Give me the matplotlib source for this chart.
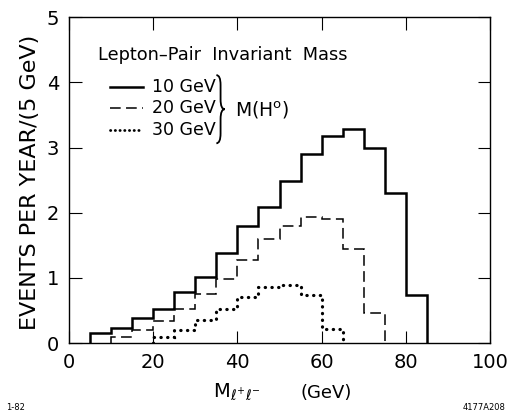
import numpy as np
import matplotlib
matplotlib.use("Agg")
import matplotlib.pyplot as plt
from matplotlib.path import Path
from matplotlib.patches import PathPatch

# Data (events per year per 5 GeV bin)
edges_10 = [5, 10, 15, 20, 25, 30, 35, 40, 45, 50, 55, 60, 65, 70, 75, 80, 85]
vals_10 = [0.15, 0.24, 0.39, 0.53, 0.79, 1.02, 1.38, 1.79, 2.09, 2.49, 2.90, 3.18, 3.28, 3.00, 2.30, 0.74]
edges_20 = [10, 15, 20, 25, 30, 35, 40, 45, 50, 55, 60, 65, 70, 75]
vals_20 = [0.10, 0.20, 0.34, 0.53, 0.75, 0.99, 1.28, 1.59, 1.80, 1.94, 1.91, 1.45, 0.47]
edges_30 = [20, 25, 30, 35, 40, 45, 50, 55, 60, 65]
vals_30 = [0.10, 0.20, 0.36, 0.53, 0.71, 0.86, 0.89, 0.74, 0.22]
xticks = [0, 20, 40, 60, 80, 100]
yticks = [0, 1, 2, 3, 4, 5]
legend_labels = ["10 GeV", "20 GeV", "30 GeV"]

plt.rcParams['font.family'] = ['DejaVu Sans']
fig = plt.figure(figsize=(5.11, 4.17), dpi=100)
ax = fig.add_axes([0.135, 0.177, 0.824, 0.782])

DASH = (0, (7, 3.5))
DOT = (0, (0.1, 2.0))
ax.stairs(vals_10, edges_10, baseline=0, color='black', lw=1.8)
ax.stairs(vals_20, edges_20, baseline=0, color='black', lw=1.1, linestyle=DASH)
p3 = ax.stairs(vals_30, edges_30, baseline=0, color='black', lw=2.3, linestyle=DOT)
p3.set_capstyle('round')

ax.set_xlim(0, 100)
ax.set_ylim(0, 5)
ax.set_xticks(xticks)
ax.set_yticks(yticks)
ax.tick_params(direction='in', length=9, width=0.8, top=True, right=True, labelsize=14, pad=7)
for s in ax.spines.values():
    s.set_linewidth(1.0)

fig.text(0.058, 0.562, 'EVENTS PER YEAR/(5 GeV)', fontsize=16, rotation=90, ha='center', va='center')
fig.text(0.417, 0.058, r'$\mathrm{M}_{\ell^{+}\ell^{-}}$', fontsize=14, ha='left', va='center')
fig.text(0.588, 0.058, '(GeV)', fontsize=13, ha='left', va='center')

# Title and legend inside axes
ax.text(0.069, 0.883, 'Lepton\u2013Pair  Invariant  Mass', transform=ax.transAxes, fontsize=12.8, ha='left', va='center')
ys = [0.786, 0.72, 0.653]
styles = [dict(lw=1.8, ls='-'), dict(lw=1.1, ls=DASH), dict(lw=2.0, ls=(0, (0.1, 1.6)), dash_capstyle='round')]
for y, st, lab in zip(ys, styles, legend_labels):
    ax.plot([0.097, 0.176], [y, y], transform=ax.transAxes, color='black', **st)
    ax.text(0.198, y, lab, transform=ax.transAxes, fontsize=12.5, ha='left', va='center')

# Curly brace
bx, y0, y1 = 0.35, 0.822, 0.613
ym = (y0 + y1) / 2
w = 0.01
codes = [Path.MOVETO, Path.CURVE3, Path.CURVE3, Path.LINETO, Path.CURVE3, Path.CURVE3,
         Path.CURVE3, Path.CURVE3, Path.LINETO, Path.CURVE3, Path.CURVE3]
verts = [(bx, y0), (bx + w, y0), (bx + w, y0 - 0.03), (bx + w, ym + 0.03),
         (bx + w, ym), (bx + 2 * w, ym),
         (bx + w, ym), (bx + w, ym - 0.03), (bx + w, y1 + 0.03),
         (bx + w, y1), (bx, y1)]
ax.add_patch(PathPatch(Path(verts, codes), transform=ax.transAxes, fill=False, lw=1.3, color='black'))
ax.text(0.394, 0.715, 'M(H$^{\\mathrm{o}}$)', transform=ax.transAxes, fontsize=13.5, ha='left', va='center')

fig.text(0.012, 0.022, '1-82', fontsize=6, ha='left', va='center')
fig.text(0.99, 0.022, '4177A208', fontsize=6, ha='right', va='center')

fig.savefig('out.png', dpi=100)
